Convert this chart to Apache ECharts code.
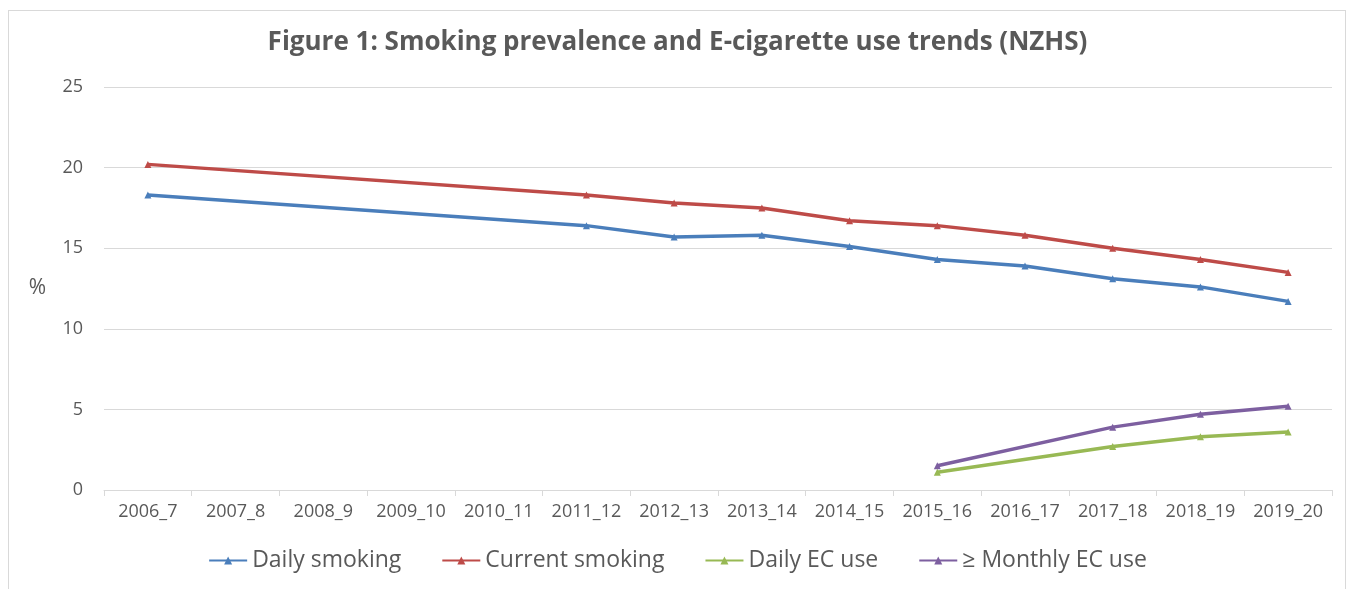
<!DOCTYPE html>
<html>
<head>
<meta charset="utf-8">
<script src="https://cdn.jsdelivr.net/npm/echarts@6/dist/echarts.min.js"></script>
<style>
  html, body { margin: 0; padding: 0; background: #fff; }
  #frame { position: absolute; left: 8px; top: 10px; width: 1338px; height: 590px; border: 1px solid #d9d9d9; box-sizing: border-box; }
  #main { position: absolute; left: 0; top: 0; width: 1355px; height: 589px; }
</style>
</head>
<body>
<div id="frame"></div>
<div id="main"></div>
<script>
// 数据
var years = ['2006_7', '2007_8', '2008_9', '2009_10', '2010_11', '2011_12', '2012_13',
    '2013_14', '2014_15', '2015_16', '2016_17', '2017_18', '2018_19', '2019_20'];
var dailySmoking = [18.3, null, null, null, null, 16.4, 15.7, 15.8, 15.1, 14.3, 13.9, 13.1, 12.6, 11.7];
var currentSmoking = [20.2, null, null, null, null, 18.3, 17.8, 17.5, 16.7, 16.4, 15.8, 15.0, 14.3, 13.5];
var dailyEC = [null, null, null, null, null, null, null, null, null, 1.1, null, 2.7, 3.3, 3.6];
var monthlyEC = [null, null, null, null, null, null, null, null, null, 1.5, null, 3.9, 4.7, 5.2];

var textColor = '#595959';
var font = '"Open Sans", "Noto Sans", sans-serif';

function line(name, data, color) {
    return {
        name: name,
        type: 'line',
        data: data,
        connectNulls: true,
        symbol: 'triangle',
        symbolSize: 7,
        showSymbol: true,
        itemStyle: { color: color },
        lineStyle: { color: color, width: 3.5 }
    };
}

var myChart = echarts.init(document.getElementById('main'));
var option = {
    animation: false,
    textStyle: { fontFamily: font },
    title: {
        text: 'Figure 1: Smoking prevalence and E-cigarette use trends (NZHS)',
        left: 'center',
        top: 25,
        textStyle: { fontFamily: font, fontSize: 26, fontWeight: 'bold', color: textColor }
    },
    legend: {
        bottom: 12,
        left: 'center',
        itemWidth: 38,
        itemHeight: 10,
        itemGap: 40,
        textStyle: { fontFamily: font, fontSize: 23, color: textColor },
        data: ['Daily smoking', 'Current smoking', 'Daily EC use', '≥ Monthly EC use']
    },
    grid: { left: 104, right: 23, top: 87, bottom: 99 },
    xAxis: {
        type: 'category',
        data: years,
        boundaryGap: true,
        axisLine: { lineStyle: { color: '#d9d9d9', width: 1 } },
        axisTick: { show: true, length: 6, lineStyle: { color: '#d9d9d9' } },
        axisLabel: { interval: 0, margin: 13, fontSize: 18, color: textColor, fontFamily: font }
    },
    yAxis: {
        type: 'value',
        name: '%',
        nameLocation: 'middle',
        nameRotate: 0,
        nameGap: 58,
        nameTextStyle: { fontSize: 21, color: textColor, fontFamily: font, padding: [0, 0, 75, 0] },
        min: 0,
        max: 25,
        interval: 5,
        axisLine: { show: false },
        axisTick: { show: false },
        axisLabel: { margin: 21, fontSize: 18, color: textColor, fontFamily: font },
        splitLine: { lineStyle: { color: '#d9d9d9', width: 1 } }
    },
    series: [
        line('Daily smoking', dailySmoking, '#4a7ebb'),
        line('Current smoking', currentSmoking, '#be4b48'),
        line('Daily EC use', dailyEC, '#98b954'),
        line('≥ Monthly EC use', monthlyEC, '#7d5fa0')
    ]
};
option && myChart.setOption(option);
</script>
</body>
</html>
